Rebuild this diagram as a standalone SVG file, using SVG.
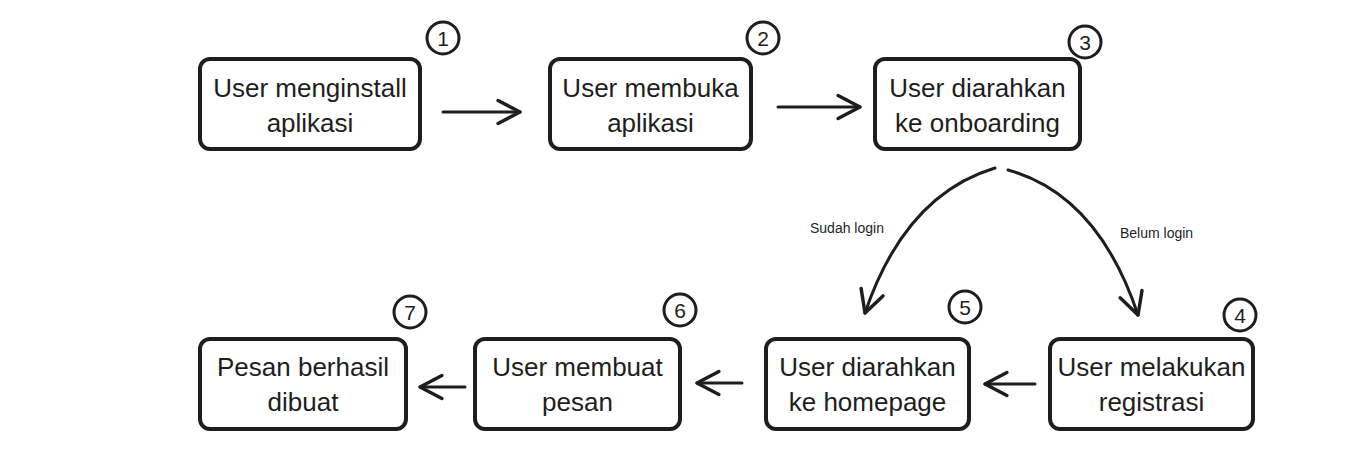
<svg xmlns="http://www.w3.org/2000/svg" width="1366" height="470" viewBox="0 0 1366 470">
<style>
.box{fill:#ffffff;stroke:#1e1e1e;stroke-width:4;stroke-linejoin:round}
.lbl{font-family:"Liberation Sans",Arial,sans-serif;font-size:26px;fill:#1e1e1e;text-anchor:middle}
.num{fill:#ffffff;stroke:#1e1e1e;stroke-width:3}
.numt{font-family:"Liberation Sans",Arial,sans-serif;font-size:21px;fill:#1e1e1e;text-anchor:middle}
.edge{fill:none;stroke:#1e1e1e;stroke-width:3;stroke-linecap:round;marker-end:url(#arr)}
.elbl{font-family:"Liberation Sans",Arial,sans-serif;font-size:14px;fill:#1e1e1e}
</style>
<defs>
<marker id="arr" markerUnits="userSpaceOnUse" markerWidth="30" markerHeight="30" viewBox="-22 -13 26 26" refX="0" refY="0" orient="auto">
<path d="M-19,-10 L0,0 L-19,10" fill="none" stroke="#1e1e1e" stroke-width="3" stroke-linecap="round" stroke-linejoin="round"/>
</marker>
</defs>
<rect width="1366" height="470" fill="#ffffff"/>
<g id="connectors">
<path class="edge" d="M443,112 L520,112"/>
<path class="edge" d="M778,107 L860,107"/>
<path class="edge" d="M995,168 Q905,195 865,313"/>
<path class="edge" d="M1008,170 Q1098,195 1138,315"/>
<path class="edge" d="M1035,384 L985,384"/>
<path class="edge" d="M742,383 L697,383"/>
<path class="edge" d="M465,387 L420,387"/>
<text class="elbl" x="810" y="233">Sudah login</text>
<text class="elbl" x="1120" y="238">Belum login</text>
</g>
<g id="node1">
<rect class="box" x="200" y="59" width="220" height="90" rx="10"/>
<text class="lbl" x="310" y="97">User menginstall</text>
<text class="lbl" x="310" y="132">aplikasi</text>
<circle class="num" cx="443" cy="38" r="16"/>
<text class="numt" x="443" y="45.5">1</text>
</g>
<g id="node2">
<rect class="box" x="550" y="59" width="201" height="90" rx="10"/>
<text class="lbl" x="650.5" y="97">User membuka</text>
<text class="lbl" x="650.5" y="132">aplikasi</text>
<circle class="num" cx="763" cy="38" r="16"/>
<text class="numt" x="763" y="45.5">2</text>
</g>
<g id="node3">
<rect class="box" x="875" y="59" width="205" height="90" rx="10"/>
<text class="lbl" x="977.5" y="97">User diarahkan</text>
<text class="lbl" x="977.5" y="132">ke onboarding</text>
<circle class="num" cx="1085" cy="42" r="16"/>
<text class="numt" x="1085" y="49.5">3</text>
</g>
<g id="node4">
<rect class="box" x="1050" y="339" width="203" height="90" rx="10"/>
<text class="lbl" x="1151.5" y="376">User melakukan</text>
<text class="lbl" x="1151.5" y="411">registrasi</text>
<circle class="num" cx="1240" cy="315" r="16"/>
<text class="numt" x="1240" y="322.5">4</text>
</g>
<g id="node5">
<rect class="box" x="766" y="339" width="203" height="90" rx="10"/>
<text class="lbl" x="867.5" y="376">User diarahkan</text>
<text class="lbl" x="867.5" y="411">ke homepage</text>
<circle class="num" cx="965" cy="307" r="16"/>
<text class="numt" x="965" y="314.5">5</text>
</g>
<g id="node6">
<rect class="box" x="475" y="339" width="205" height="90" rx="10"/>
<text class="lbl" x="577.5" y="376">User membuat</text>
<text class="lbl" x="577.5" y="411">pesan</text>
<circle class="num" cx="680" cy="310" r="16"/>
<text class="numt" x="680" y="317.5">6</text>
</g>
<g id="node7">
<rect class="box" x="200" y="339" width="206" height="90" rx="10"/>
<text class="lbl" x="303" y="376">Pesan berhasil</text>
<text class="lbl" x="303" y="411">dibuat</text>
<circle class="num" cx="410" cy="312" r="16"/>
<text class="numt" x="410" y="319.5">7</text>
</g>
</svg>
